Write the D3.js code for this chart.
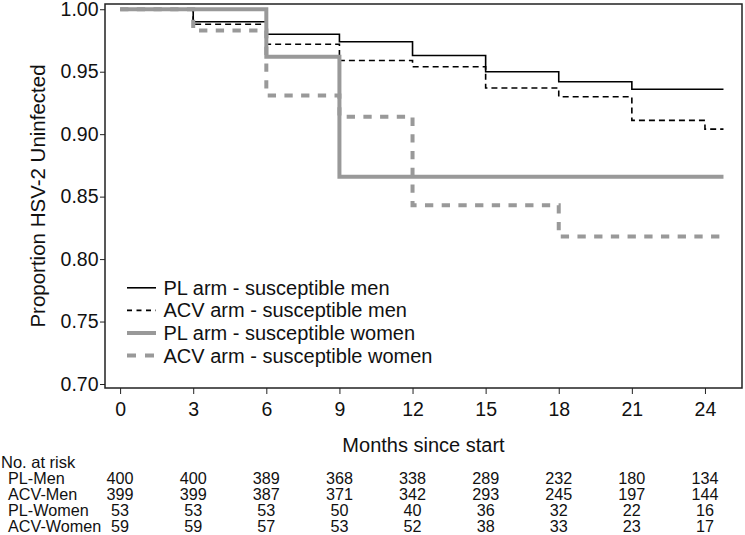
<!DOCTYPE html>
<html>
<head>
<meta charset="utf-8">
<script src="https://cdn.jsdelivr.net/npm/d3@7"></script>
<style>
  html, body { margin: 0; padding: 0; background: #fff; }
  svg { display: block; font-family: "Liberation Sans", Arial, sans-serif; }
</style>
</head>
<body>
<svg id="chart" width="745" height="535"></svg>
<script>
// ---- Data ----
const seriesNames = ["PL arm - susceptible men", "ACV arm - susceptible men", "PL arm - susceptible women", "ACV arm - susceptible women"];
const plMenTimes = [0, 3, 6, 9, 12, 15, 18, 21, 24.76];
const plMenValues = [1.000, 0.990, 0.980, 0.974, 0.963, 0.950, 0.942, 0.936, 0.936];
const acvMenTimes = [0, 3, 6, 9, 12, 15, 18, 21, 24, 24.76];
const acvMenValues = [1.000, 0.988, 0.972, 0.959, 0.954, 0.937, 0.930, 0.911, 0.904, 0.904];
const plWomenTimes = [0, 6, 9, 24.76];
const plWomenValues = [1.000, 0.962, 0.866, 0.866];
const acvWomenTimes = [0, 3, 6, 9, 12, 18, 24.76];
const acvWomenValues = [1.000, 0.983, 0.931, 0.914, 0.843, 0.818, 0.818];

const xTicks = [0, 3, 6, 9, 12, 15, 18, 21, 24];
const yTicks = [0.70, 0.75, 0.80, 0.85, 0.90, 0.95, 1.00];

const riskLabels = ["PL-Men", "ACV-Men", "PL-Women", "ACV-Women"];
const riskPLMen = [400, 400, 389, 368, 338, 289, 232, 180, 134];
const riskACVMen = [399, 399, 387, 371, 342, 293, 245, 197, 144];
const riskPLWomen = [53, 53, 53, 50, 40, 36, 32, 22, 16];
const riskACVWomen = [59, 59, 57, 53, 52, 38, 33, 23, 17];

// ---- Layout ----
const svg = d3.select("#chart");
const plot = { left: 105, right: 742, top: 4, bottom: 388 };
const FONT = "Liberation Sans, Arial, sans-serif";

const x = d3.scaleLinear().domain([-0.62, 25.52]).range([plot.left, plot.right]);
const y = d3.scaleLinear().domain([0.6968, 1.0042]).range([plot.bottom, plot.top]);

// frame
svg.append("rect")
  .attr("x", plot.left).attr("y", plot.top)
  .attr("width", plot.right - plot.left).attr("height", plot.bottom - plot.top)
  .attr("fill", "none").attr("stroke", "#222").attr("stroke-width", 1.5);

// axes
const yAxis = d3.axisLeft(y).tickValues(yTicks).tickFormat(d3.format(".2f")).tickSizeOuter(0).tickSize(5).tickPadding(1.5);
const gy = svg.append("g").attr("transform", `translate(${plot.left},0)`).call(yAxis);
gy.select(".domain").remove();
gy.selectAll("text").attr("font-size", 19.5).attr("fill", "#111").attr("font-family", FONT);
gy.selectAll("line").attr("stroke", "#222");

const xAxis = d3.axisBottom(x).tickValues(xTicks).tickFormat(d3.format("d")).tickSizeOuter(0).tickSize(6).tickPadding(8);
const gx = svg.append("g").attr("transform", `translate(0,${plot.bottom})`).call(xAxis);
gx.select(".domain").remove();
gx.selectAll("text").attr("font-size", 19.5).attr("fill", "#111").attr("font-family", FONT);
gx.selectAll("line").attr("stroke", "#222");

// axis titles
svg.append("text")
  .attr("x", (plot.left + plot.right) / 2).attr("y", 452)
  .attr("text-anchor", "middle").attr("font-size", 20).attr("fill", "#111")
  .text("Months since start");

svg.append("text")
  .attr("transform", `translate(45,${(plot.top + plot.bottom) / 2}) rotate(-90)`)
  .attr("text-anchor", "middle").attr("font-size", 20.5).attr("fill", "#111")
  .text("Proportion HSV-2 Uninfected");

// curves
const styles = [
  { color: "#000", width: 1.6, dash: null },
  { color: "#000", width: 1.6, dash: "6,4" },
  { color: "#999", width: 4, dash: null },
  { color: "#999", width: 4, dash: "8.3,8.4" }
];
const seriesData = [
  d3.zip(plMenTimes, plMenValues),
  d3.zip(acvMenTimes, acvMenValues),
  d3.zip(plWomenTimes, plWomenValues),
  d3.zip(acvWomenTimes, acvWomenValues)
];
const line = d3.line().x(d => x(d[0])).y(d => y(d[1])).curve(d3.curveStepAfter);

[0, 1, 2, 3].forEach(i => {
  const p = svg.append("path")
    .datum(seriesData[i])
    .attr("d", line)
    .attr("fill", "none")
    .attr("stroke", styles[i].color)
    .attr("stroke-width", styles[i].width)
    .attr("stroke-linecap", "butt")
    .attr("stroke-linejoin", "miter");
  if (styles[i].dash) p.attr("stroke-dasharray", styles[i].dash);
});

// legend
const legendDash = [null, "5,4.5", null, "9,9"];
const lg = svg.append("g");
seriesNames.forEach((name, i) => {
  const yy = 287.8 + i * 22.6;
  const l = lg.append("line")
    .attr("x1", 127).attr("x2", 156).attr("y1", yy).attr("y2", yy)
    .attr("stroke", styles[i].color).attr("stroke-width", styles[i].width);
  if (legendDash[i]) l.attr("stroke-dasharray", legendDash[i]);
  lg.append("text")
    .attr("x", 163.5).attr("y", yy + 7)
    .attr("font-size", 20).attr("fill", "#111")
    .text(name);
});

// risk table
const riskRows = [riskPLMen, riskACVMen, riskPLWomen, riskACVWomen];
svg.append("text")
  .attr("x", 1).attr("y", 468.3)
  .attr("font-size", 16.5).attr("fill", "#111")
  .text("No. at risk");
riskRows.forEach((row, r) => {
  const yy = 484.3 + r * 15.85;
  svg.append("text")
    .attr("x", 8).attr("y", yy)
    .attr("font-size", 16.2).attr("fill", "#111")
    .text(riskLabels[r]);
  row.forEach((v, j) => {
    svg.append("text")
      .attr("x", x(xTicks[j])).attr("y", yy)
      .attr("text-anchor", "middle")
      .attr("font-size", 16.2).attr("fill", "#111")
      .text(v);
  });
});
</script>
</body>
</html>
